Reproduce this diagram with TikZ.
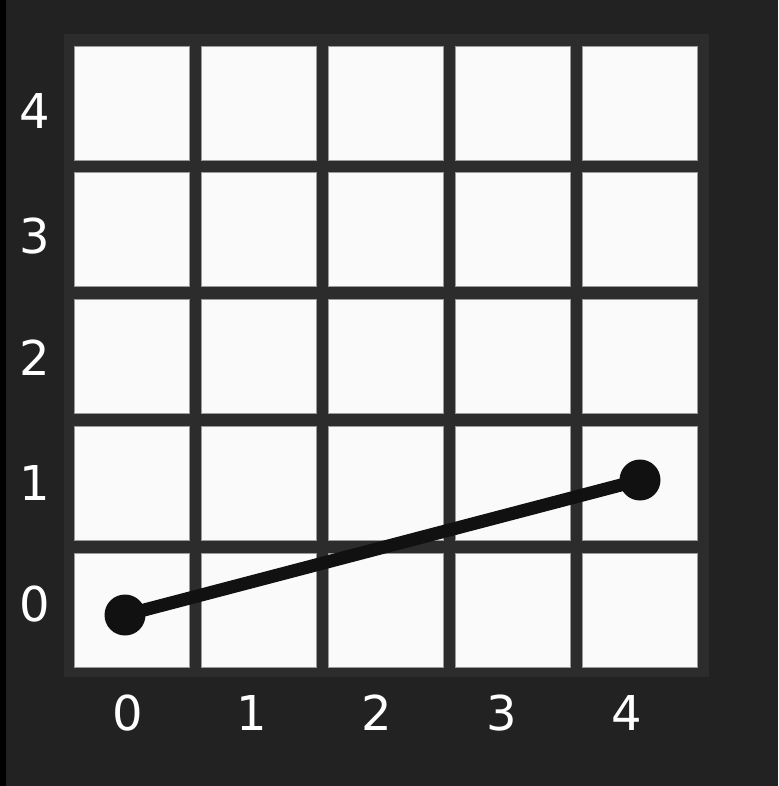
\documentclass[tikz,border=0pt]{standalone}
\usepackage{fontspec}
\setmainfont{DejaVu Sans}
\definecolor{bgdark}{HTML}{222222}
\definecolor{panel}{HTML}{2C2C2C}
\definecolor{cellwhite}{HTML}{FAFAFA}
\definecolor{cellrim}{HTML}{9A9A9A}
\definecolor{inkdark}{HTML}{111111}
\tikzset{
  cellbox/.style={draw=cellrim, line width=0.8pt, fill=cellwhite, minimum width=115pt, minimum height=114pt, inner sep=0pt},
  dotnode/.style={circle, fill=inkdark, minimum size=41pt, inner sep=0pt},
  lbl/.style={text=white, inner sep=0pt, font=\fontsize{48}{48}\selectfont}
}
\begin{document}
\begin{tikzpicture}[x=1pt, y=-1pt]
            \fill[bgdark] (0,0) rectangle (778,786);
            \fill[black] (0,0) rectangle (6,786);
            \fill[panel] (64,34) rectangle (709,677);

            \foreach \i in {0,...,4}
              \foreach \j in {0,...,4}
                \node (c\i\j) [cellbox] at ({131.5+127.2*\i},{103+126.8*\j}) {};

            % axis labels
            \node (y4) [lbl] at (35,111) {4};
            \node (y3) [lbl] at (35,236) {3};
            \node (y2) [lbl] at (35,358) {2};
            \node (y1) [lbl] at (35,483) {1};
            \node (y0) [lbl] at (35,604) {0};
            \node (x0) [lbl] at (128,713) {0};
            \node (x1) [lbl] at (252,713) {1};
            \node (x2) [lbl] at (377,713) {2};
            \node (x3) [lbl] at (502,713) {3};
            \node (x4) [lbl] at (627,713) {4};

            \node (start) [dotnode] at (125,615) {};
            \node (end) [dotnode] at (640,480) {};
            \draw[inkdark, line width=13pt] (start.center) -- (end.center);
\end{tikzpicture}
\end{document}
